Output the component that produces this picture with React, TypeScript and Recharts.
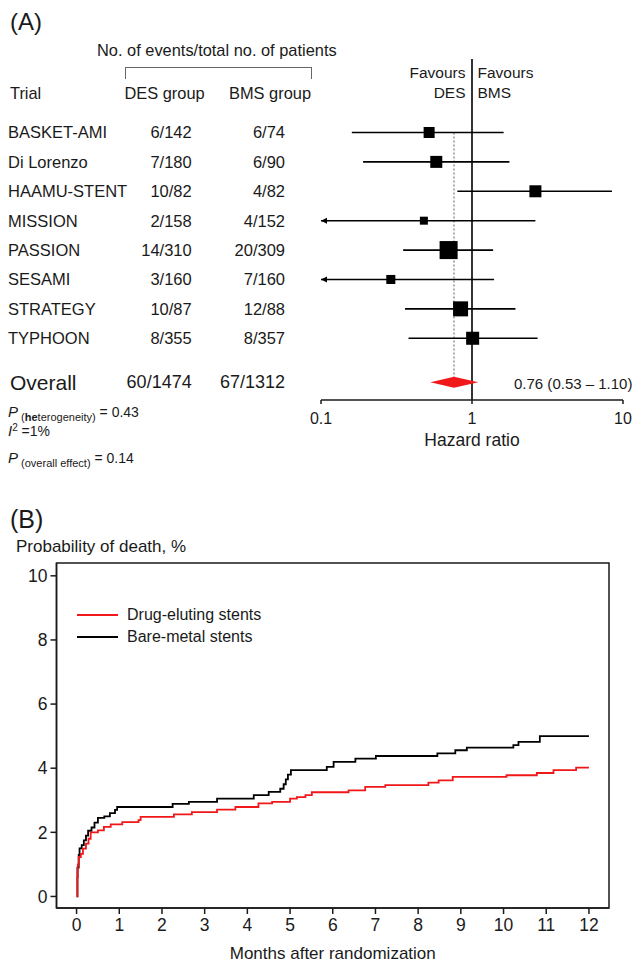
import React from 'react';
import {
  Line,
  LineChart,
  ReferenceArea,
  ReferenceLine,
  Scatter,
  ScatterChart,
  XAxis,
  YAxis,
} from 'recharts';

const FONT = '"Liberation Sans", Arial, Helvetica, sans-serif';
const INK = '#1a1a1a';
const RED = '#f01818';

// Panel A – forest plot
const trials = ['BASKET-AMI', 'Di Lorenzo', 'HAAMU-STENT', 'MISSION', 'PASSION', 'SESAMI', 'STRATEGY', 'TYPHOON'];
const desCounts = ['6/142', '7/180', '10/82', '2/158', '14/310', '3/160', '10/87', '8/355'];
const bmsCounts = ['6/74', '6/90', '4/82', '4/152', '20/309', '7/160', '12/88', '8/357'];
const hazard = [0.52, 0.58, 2.63, 0.48, 0.7, 0.29, 0.84, 1.01];
const lowerCI = [0.16, 0.19, 0.8, 0.06, 0.35, 0.05, 0.36, 0.38];
const upperCI = [1.62, 1.77, 8.45, 2.63, 1.38, 1.4, 1.94, 2.72];
const weights = [9.5, 11.3, 11.3, 5.0, 25.5, 6.4, 17.7, 13.3];

const overallRow = 8.5;
const overallDes = '60/1474';
const overallBms = '67/1312';
const overallHr = 0.76;
const overallLo = 0.53;
const overallHi = 1.1;

const hrTicks = [0.1, 1, 10];
const hrMin = 0.1;

// Panel B – cumulative probability of death (%)
const monthTicks = [0, 1, 2, 3, 4, 5, 6, 7, 8, 9, 10, 11, 12];
const probTicks = [0, 2, 4, 6, 8, 10];

const bmsMonths = [0, 0.02, 0.05, 0.07, 0.12, 0.17, 0.22, 0.27, 0.35, 0.42, 0.5, 0.65, 0.78, 0.9, 0.95, 2.25, 2.63, 3.29, 4.15, 4.5, 4.77, 4.85, 4.9, 4.95, 5.02, 5.86, 6.02, 6.53, 7.01, 8.45, 8.87, 9.14, 10.23, 10.35, 10.85, 12];
const bmsDeath = [0, 0.9, 1.3, 1.5, 1.6, 1.75, 1.9, 2.05, 2.15, 2.3, 2.45, 2.5, 2.6, 2.7, 2.79, 2.89, 2.95, 3.05, 3.16, 3.26, 3.36, 3.5, 3.65, 3.8, 3.94, 4.04, 4.2, 4.3, 4.38, 4.46, 4.56, 4.64, 4.72, 4.82, 5.0, 5.0];

const desMonths = [0, 0.02, 0.03, 0.05, 0.1, 0.15, 0.22, 0.28, 0.33, 0.5, 0.64, 0.8, 1.07, 1.45, 1.5, 2.28, 2.7, 3.29, 3.72, 4.26, 4.58, 5.0, 5.16, 5.36, 5.51, 6.37, 6.76, 7.23, 8.24, 8.48, 8.81, 10.07, 10.78, 11.17, 11.7, 12];
const desDeath = [0, 0.6, 1.0, 1.23, 1.33, 1.49, 1.65, 1.8, 2.0, 2.06, 2.17, 2.25, 2.32, 2.38, 2.48, 2.56, 2.63, 2.71, 2.79, 2.9, 2.95, 3.05, 3.1, 3.16, 3.25, 3.31, 3.42, 3.47, 3.55, 3.62, 3.73, 3.78, 3.85, 3.94, 4.02, 4.02];

const forestData = trials.map((name, i) => ({ name, row: i, hr: hazard[i], weight: weights[i] }));
const bmsData = bmsMonths.map((t, i) => ({ t, v: bmsDeath[i] }));
const desData = desMonths.map((t, i) => ({ t, v: desDeath[i] }));

function Label({ x, y, size = 16, align = 'left', children, style }: any) {
  const tx = align === 'left' ? '0' : align === 'right' ? '-100%' : '-50%';
  return (
    <div
      style={{
        position: 'absolute',
        left: x,
        top: y,
        fontSize: size,
        lineHeight: 1,
        whiteSpace: 'nowrap',
        color: INK,
        transform: `translate(${tx}, -50%)`,
        ...style,
      }}
    >
      {children}
    </div>
  );
}

function TableTick({ y, payload }: any) {
  const v = payload.value;
  if (v === overallRow) {
    return (
      <g fill={INK} fontFamily={FONT}>
        <text x={10} y={y} fontSize={21} dominantBaseline="central">Overall</text>
        <text x={191.7} y={y} fontSize={18} textAnchor="end" dominantBaseline="central">{overallDes}</text>
        <text x={285} y={y} fontSize={18} textAnchor="end" dominantBaseline="central">{overallBms}</text>
      </g>
    );
  }
  return (
    <g fill={INK} fontFamily={FONT} fontSize={16.5}>
      <text x={8} y={y} dominantBaseline="central">{trials[v]}</text>
      <text x={191.7} y={y} textAnchor="end" dominantBaseline="central">{desCounts[v]}</text>
      <text x={285} y={y} textAnchor="end" dominantBaseline="central">{bmsCounts[v]}</text>
    </g>
  );
}

const Square = (p: any) => {
  const s = Math.sqrt(p.payload.weight) * 3.57;
  return <rect x={p.cx - s / 2} y={p.cy - s / 2} width={s} height={s} fill="#000" />;
};

const ciShape = (clipped: boolean) => (p: any) => (
  <g>
    <line x1={p.x1} y1={p.y1} x2={p.x2} y2={p.y2} stroke="#000" strokeWidth={1.6} />
    {clipped && (
      <polygon points={`${p.x1},${p.y1} ${p.x1 + 6},${p.y1 - 3} ${p.x1 + 6},${p.y1 + 3}`} fill="#000" />
    )}
  </g>
);

const diamondShape = (p: any) => {
  const f = (Math.log(overallHr) - Math.log(overallLo)) / (Math.log(overallHi) - Math.log(overallLo));
  const mid = p.x1 + (p.x2 - p.x1) * f;
  const h = 5.5;
  return (
    <polygon
      points={`${p.x1},${p.y1} ${mid},${p.y1 - h} ${p.x2},${p.y1} ${mid},${p.y1 + h}`}
      fill={RED}
    />
  );
};

function ForestPlot() {
  return (
    <ScatterChart width={635} height={460} margin={{ top: 59, right: 12, bottom: 10, left: 0 }}>
      <XAxis
        type="number"
        dataKey="hr"
        scale="log"
        domain={[0.1, 10]}
        ticks={hrTicks}
        allowDataOverflow
        height={50}
        tickSize={4}
        tickMargin={9}
        stroke={INK}
        strokeWidth={1.5}
        tick={{ fill: INK, fontSize: 16, fontFamily: FONT }}
        tickFormatter={(v) => String(v)}
        label={{ value: 'Hazard ratio', position: 'insideBottom', offset: 4, fill: INK, fontSize: 17.5, fontFamily: FONT }}
      />
      <YAxis
        type="number"
        dataKey="row"
        domain={[-2.5, 9.1]}
        reversed
        ticks={[0, 1, 2, 3, 4, 5, 6, 7, overallRow]}
        interval={0}
        width={321}
        axisLine={false}
        tickLine={false}
        tick={(p: any) => <TableTick {...p} />}
      />
      <ReferenceLine x={1} stroke="#000" strokeWidth={1.6} ifOverflow="visible" />
      <ReferenceLine
        segment={[{ x: overallHr, y: 0 }, { x: overallHr, y: overallRow }]}
        stroke="#777"
        strokeWidth={1.2}
        strokeDasharray="2 2"
        ifOverflow="visible"
      />
      {trials.map((name, i) => (
        <ReferenceLine
          key={name}
          segment={[{ x: Math.max(lowerCI[i], hrMin), y: i }, { x: upperCI[i], y: i }]}
          ifOverflow="visible"
          shape={ciShape(lowerCI[i] < hrMin)}
        />
      ))}
      <ReferenceLine
        segment={[{ x: overallLo, y: overallRow }, { x: overallHi, y: overallRow }]}
        ifOverflow="visible"
        shape={diamondShape}
      />
      <Scatter data={forestData} shape={Square} isAnimationActive={false} />
    </ScatterChart>
  );
}

function SurvivalPlot() {
  return (
    <LineChart width={635} height={422} margin={{ top: 23, right: 26, bottom: 0, left: 0 }}>
      <XAxis
        type="number"
        dataKey="t"
        domain={[-0.47, 12.47]}
        ticks={monthTicks}
        interval={0}
        allowDataOverflow
        height={54}
        tickSize={6}
        tickMargin={5}
        stroke={INK}
        strokeWidth={1.5}
        tick={{ fill: INK, fontSize: 17.5, fontFamily: FONT }}
        label={{ value: 'Months after randomization', position: 'insideBottom', offset: 3, fill: INK, fontSize: 17, fontFamily: FONT }}
      />
      <YAxis
        type="number"
        domain={[-0.36, 10.4]}
        ticks={probTicks}
        interval={0}
        allowDataOverflow
        width={56.5}
        tickSize={6}
        tickMargin={3}
        stroke={INK}
        strokeWidth={1.5}
        tick={{ fill: INK, fontSize: 17.5, fontFamily: FONT }}
      />
      <ReferenceArea
        x1={-0.47}
        x2={12.47}
        y1={-0.36}
        y2={10.4}
        fill="none"
        stroke={INK}
        strokeWidth={1.5}
        ifOverflow="visible"
      />
      <Line
        data={bmsData}
        dataKey="v"
        type="stepAfter"
        stroke="#000"
        strokeWidth={1.8}
        dot={false}
        isAnimationActive={false}
      />
      <Line
        data={desData}
        dataKey="v"
        type="stepAfter"
        stroke={RED}
        strokeWidth={1.8}
        dot={false}
        isAnimationActive={false}
      />
    </LineChart>
  );
}

export default function App() {
  return (
    <div
      style={{
        position: 'absolute',
        left: 0,
        top: 0,
        width: 635,
        height: 962,
        background: '#fff',
        fontFamily: FONT,
        color: INK,
        overflow: 'hidden',
      }}
    >
      <div style={{ position: 'absolute', left: 0, top: 0 }}>
        <ForestPlot />
      </div>
      <div style={{ position: 'absolute', left: 0, top: 540 }}>
        <SurvivalPlot />
      </div>

      {/* panel A header */}
      <Label x={10} y={22} size={24}>(A)</Label>
      <Label x={97} y={50} size={16.4}>No. of events/total no. of patients</Label>
      <div
        style={{
          position: 'absolute',
          left: 125,
          top: 67,
          width: 185,
          height: 11,
          borderTop: '1px solid #666',
          borderLeft: '1px solid #666',
          borderRight: '1px solid #666',
        }}
      />
      <Label x={10} y={93} size={16.4}>Trial</Label>
      <Label x={124.5} y={93} size={16.4}>DES group</Label>
      <Label x={229} y={93} size={16.4}>BMS group</Label>
      <Label x={465.5} y={73} size={15.5} align="right">Favours</Label>
      <Label x={465.5} y={93} size={15.5} align="right">DES</Label>
      <Label x={477.5} y={73} size={15.5}>Favours</Label>
      <Label x={477.5} y={93} size={15.5}>BMS</Label>
      <Label x={514} y={383} size={15}>
        {overallHr.toFixed(2)} ({overallLo.toFixed(2)} – {overallHi.toFixed(2)})
      </Label>

      {/* heterogeneity statistics */}
      <Label x={8} y={411} size={14}>
        <span style={{ fontStyle: 'italic', fontSize: 15 }}>P</span>
        <span style={{ fontSize: 11, position: 'relative', top: 4 }}>
          {' '}(<b>he</b>terogeneity)
        </span>
        <span> = 0.43</span>
      </Label>
      <Label x={8} y={430} size={14}>
        <span style={{ fontStyle: 'italic', fontSize: 15 }}>I</span>
        <span style={{ fontSize: 10, position: 'relative', top: -5 }}>2</span>
        <span> =1%</span>
      </Label>
      <Label x={8} y={457} size={14}>
        <span style={{ fontStyle: 'italic', fontSize: 15 }}>P</span>
        <span style={{ fontSize: 11, position: 'relative', top: 4 }}> (overall effect)</span>
        <span> = 0.14</span>
      </Label>

      {/* panel B header and legend */}
      <Label x={10} y={519} size={25}>(B)</Label>
      <Label x={16} y={546} size={17}>Probability of death, %</Label>
      <div style={{ position: 'absolute', left: 77, top: 614, width: 41, height: 2, background: RED }} />
      <div style={{ position: 'absolute', left: 77, top: 636, width: 41, height: 2, background: '#000' }} />
      <Label x={127} y={615} size={16}>Drug-eluting stents</Label>
      <Label x={127} y={637} size={16}>Bare-metal stents</Label>
    </div>
  );
}
